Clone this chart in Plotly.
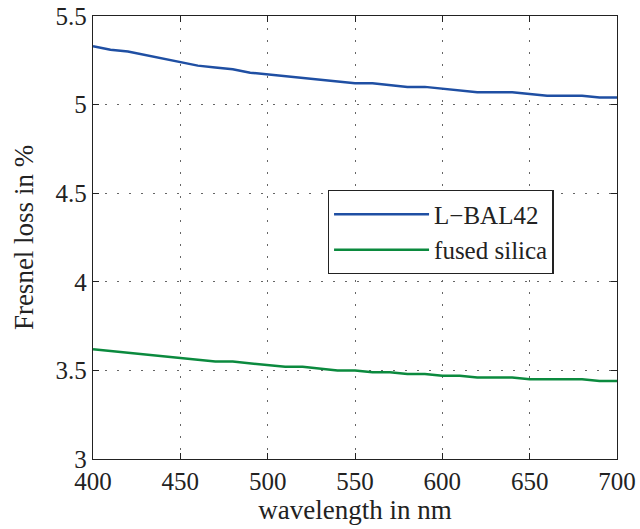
import plotly.graph_objects as go

wavelength = list(range(400, 701, 10))
lbal42 = [5.33, 5.31, 5.30, 5.28, 5.26, 5.24, 5.22, 5.21, 5.20, 5.18, 5.17,
          5.16, 5.15, 5.14, 5.13, 5.12, 5.12, 5.11, 5.10, 5.10, 5.09,
          5.08, 5.07, 5.07, 5.07, 5.06, 5.05, 5.05, 5.05, 5.04, 5.04]
fused_silica = [3.62, 3.61, 3.60, 3.59, 3.58, 3.57, 3.56, 3.55, 3.55, 3.54, 3.53,
                3.52, 3.52, 3.51, 3.50, 3.50, 3.49, 3.49, 3.48, 3.48, 3.47,
                3.47, 3.46, 3.46, 3.46, 3.45, 3.45, 3.45, 3.45, 3.44, 3.44]
x_ticks = [400, 450, 500, 550, 600, 650, 700]
y_ticks = [3, 3.5, 4, 4.5, 5, 5.5]
y_tick_labels = ["3", "3.5", "4", "4.5", "5", "5.5"]

font = "Liberation Serif"

fig = go.Figure()
fig.add_trace(go.Scatter(x=wavelength, y=lbal42, mode="lines", name="L\u2212BAL42",
                         line=dict(color="#1f4fa3", width=2.5)))
fig.add_trace(go.Scatter(x=wavelength, y=fused_silica, mode="lines", name="fused silica",
                         line=dict(color="#0b8a3e", width=2.5)))

axis_common = dict(
    showline=True, linecolor="#222", linewidth=1.3, mirror="allticks",
    ticks="inside", ticklen=6, tickcolor="#222",
    showgrid=True, gridcolor="#666", griddash="1.5px,10.5px", gridwidth=1.2,
    zeroline=False, automargin=False,
    tickfont=dict(family=font, size=25, color="#222"),
)

fig.update_layout(
    width=640, height=529,
    margin=dict(l=93, r=23, t=16, b=70),
    paper_bgcolor="white", plot_bgcolor="white",
    font=dict(family=font, color="#222"),
    xaxis=dict(range=[400, 700], tickvals=x_ticks,
               title=dict(text="wavelength in nm", font=dict(family=font, size=27), standoff=2),
               **axis_common),
    yaxis=dict(range=[3, 5.5], tickvals=y_ticks, ticktext=y_tick_labels,
               title=dict(text="Fresnel loss in %", font=dict(family=font, size=27), standoff=14),
               **axis_common),
    legend=dict(x=0.448, y=0.607, xanchor="left", yanchor="top",
                bgcolor="white", bordercolor="#222", borderwidth=1.3,
                itemwidth=95,
                font=dict(family=font, size=25, color="#222")),
    showlegend=True,
)

fig.write_html("out.html")
